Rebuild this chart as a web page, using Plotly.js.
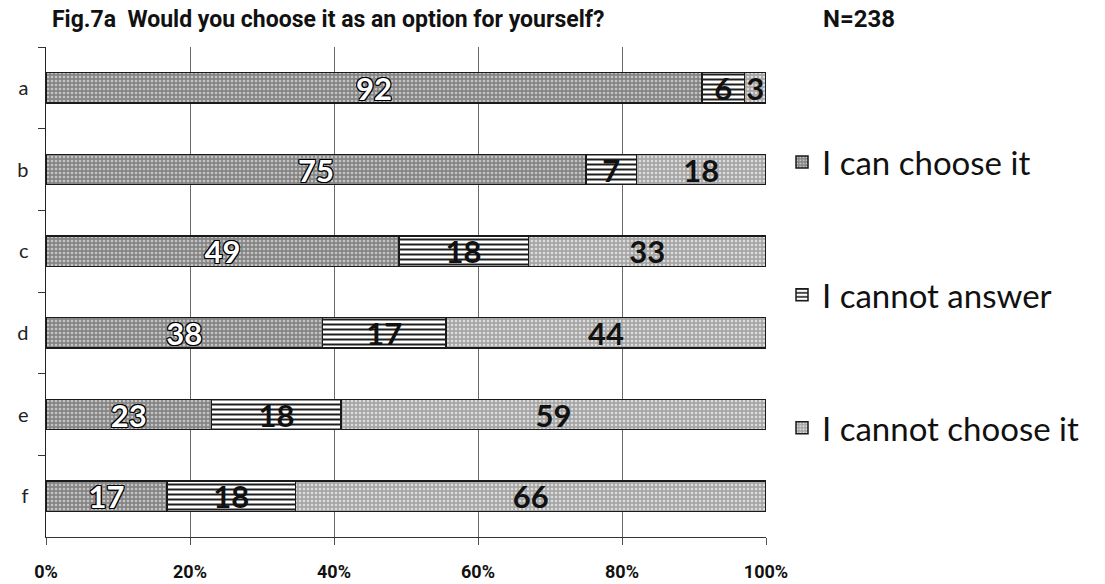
<!DOCTYPE html>
<html>
<head>
<meta charset="utf-8">
<script src="https://cdn.plot.ly/plotly-3.0.1.min.js"></script>
<style>
  html, body { margin: 0; padding: 0; background: #fff; }
  #chart { width: 1105px; height: 584px; }
</style>
</head>
<body>
<div id="chart"></div>
<script>
// Survey items (rows, top to bottom)
const categories = ['a', 'b', 'c', 'd', 'e', 'f'];

// Answer shares per item (%)
const canChoose    = [92, 75, 49, 38, 23, 17];
const cannotAnswer = [6, 7, 18, 17, 18, 18];
const cannotChoose = [3, 18, 33, 44, 59, 66];

const seriesNames = ['I can choose it', 'I cannot answer', 'I cannot choose it'];
const xTickVals = [0, 20, 40, 60, 80, 100];
const xTickText = ['0%', '20%', '40%', '60%', '80%', '100%'];

const heading = 'Roboto, Liberation Sans, sans-serif';
const body = 'Lato, Carlito, Calibri, Noto Sans, sans-serif';
const outline = '1px 1px 0 #000, -1px -1px 0 #000, 1px -1px 0 #000, -1px 1px 0 #000, 0 1px 0 #000, 0 -1px 0 #000, 1px 0 0 #000, -1px 0 0 #000';

function barTrace(values, name, group, pattern, textStyle) {
  return {
    type: 'bar',
    orientation: 'h',
    y: categories,
    x: values,
    name: name,
    legendgroup: group,
    text: values.map(String),
    texttemplate: '%{text}',
    textposition: 'inside',
    insidetextanchor: 'middle',
    textangle: 0,
    constraintext: 'none',
    textfont: textStyle,
    hoverinfo: 'skip',
    marker: {
      color: pattern.bgcolor,
      pattern: pattern,
      line: { color: '#1a1a1a', width: 1.5 }
    }
  };
}

const data = [
  barTrace(canChoose, seriesNames[0], 'g1',
    { shape: '.', bgcolor: '#858585', fgcolor: '#c4c4c4', size: 4, solidity: 0.35 },
    { family: body, size: 31, weight: 700, color: '#ffffff', shadow: outline }),
  barTrace(cannotAnswer, seriesNames[1], 'g2',
    { shape: '-', bgcolor: '#ffffff', fgcolor: '#1e1e1e', size: 5, solidity: 0.4 },
    { family: body, size: 31, weight: 700, color: '#111111' }),
  barTrace(cannotChoose, seriesNames[2], 'g3',
    { shape: '.', bgcolor: '#a6a6a6', fgcolor: '#dcdcdc', size: 4, solidity: 0.35 },
    { family: body, size: 31, weight: 700, color: '#111111' })
];

const layout = {
  width: 1105,
  height: 584,
  margin: { l: 46, r: 339, t: 47, b: 47 },
  paper_bgcolor: '#ffffff',
  plot_bgcolor: '#ffffff',
  barmode: 'stack',
  barnorm: 'percent',
  bargap: 0.63,
  uniformtext: { mode: 'show', minsize: 31 },
  title: {
    text: 'Fig.7a  Would you choose it as an option for yourself?',
    font: { family: heading, size: 23, weight: 700, color: '#111' },
    x: 52 / 1105,
    xanchor: 'left',
    xref: 'container',
    y: 1 - 19 / 584,
    yanchor: 'middle'
  },
  annotations: [{
    text: 'N=238',
    xref: 'paper', yref: 'paper',
    x: (859 - 46) / 720, y: 1 + 28 / 490,
    xanchor: 'center', yanchor: 'middle',
    showarrow: false,
    font: { family: heading, size: 24, weight: 700, color: '#111' }
  }],
  xaxis: {
    range: [0, 100],
    tickvals: xTickVals,
    ticktext: xTickText,
    showgrid: true,
    gridcolor: '#6a6a6a',
    gridwidth: 1,
    zeroline: false,
    showline: true,
    linecolor: '#333',
    linewidth: 1,
    ticks: 'outside',
    ticklen: 7,
    tickcolor: '#555',
    ticklabelstandoff: 11,
    tickfont: { family: heading, size: 18, weight: 700, color: '#111' },
    fixedrange: true
  },
  yaxis: {
    type: 'category',
    autorange: 'reversed',
    showgrid: false,
    zeroline: false,
    showline: true,
    linecolor: '#222',
    linewidth: 1.5,
    ticks: 'outside',
    tickson: 'boundaries',
    ticklen: 7,
    tickcolor: '#333',
    ticklabelstandoff: 12,
    tickfont: { family: body, size: 20, color: '#222' },
    fixedrange: true
  },
  showlegend: true,
  legend: {
    xref: 'container',
    yref: 'container',
    x: 782 / 1105,
    xanchor: 'left',
    y: 1 - 134 / 584,
    yanchor: 'top',
    maxheight: 420,
    traceorder: 'grouped',
    tracegroupgap: 87,
    font: { family: body, size: 33, color: '#111' },
    bgcolor: 'rgba(0,0,0,0)',
    itemclick: false,
    itemdoubleclick: false
  }
};

Plotly.newPlot('chart', data, layout, { displayModeBar: false, staticPlot: true });
</script>
</body>
</html>
